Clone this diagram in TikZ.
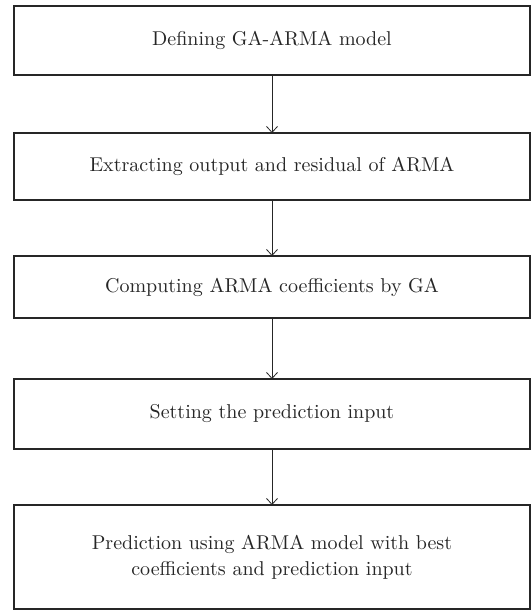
\documentclass[tikz,border=0pt]{standalone}
\usepackage{fontspec}
\setmainfont{lmroman10-regular.otf}
\usepackage{tikz}
\usetikzlibrary{arrows.meta}
\tikzstyle{etape} = [rectangle, draw=black!85, line width=1.2pt, minimum width=516pt, inner sep=0pt, outer sep=0pt, text width=500pt, align=center, font=\fontsize{20}{26}\selectfont, text=black!85]
\tikzstyle{fleche} = [-{Straight Barb[length=6pt, width=11pt]}, draw=black!85, line width=0.8pt]

\begin{document}
\begin{tikzpicture}[x=1pt, y=-1pt]
                \useasboundingbox (0,0) rectangle (531,610);
                \node [etape, minimum height=69pt] (defining) at (272,40.5) {Defining GA-ARMA model};
                \node [etape, minimum height=67pt] (extracting) at (272,166.5) {Extracting output and residual of ARMA};
                \node [etape, minimum height=62pt] (computing) at (272,287) {Computing ARMA coefficients by GA};
                \node [etape, minimum height=70pt] (setting) at (272,414) {Setting the prediction input};
                \node [etape, minimum height=104pt] (prediction) at (272,557) {Prediction using ARMA model with best\\
                    coefficients and prediction input};

                \draw[fleche] (defining.south) -- (extracting.north);
                \draw[fleche] (extracting.south) -- (computing.north);
                \draw[fleche] (computing.south) -- (setting.north);
                \draw[fleche] (setting.south) -- (prediction.north);
            \end{tikzpicture}
\end{document}
